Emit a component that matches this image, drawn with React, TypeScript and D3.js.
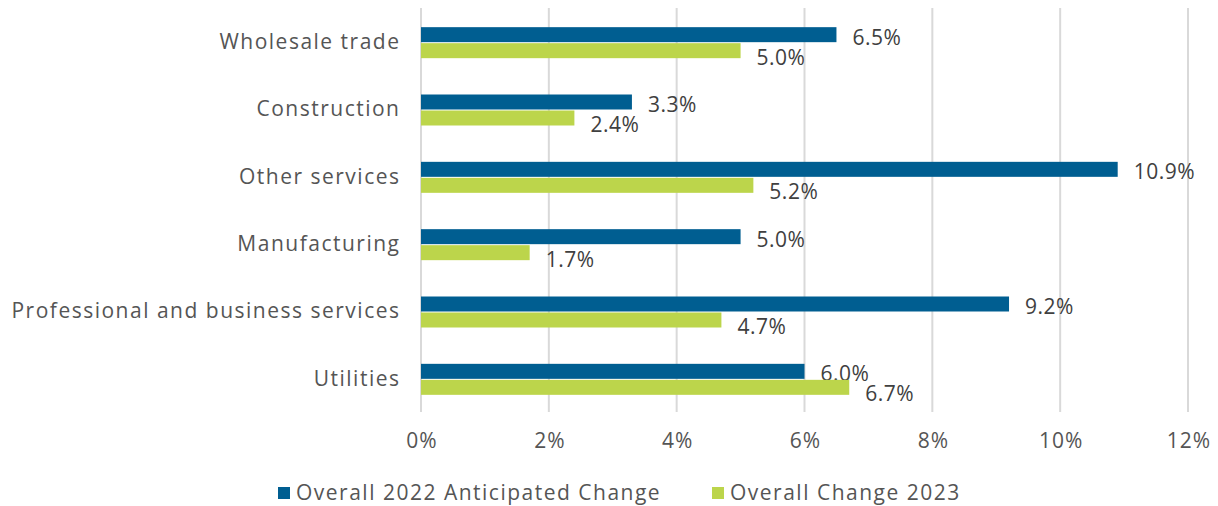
import React, { useEffect, useRef } from 'react'
import * as d3 from 'd3'

const categories = [
  'Wholesale trade',
  'Construction',
  'Other services',
  'Manufacturing',
  'Professional and business services',
  'Utilities',
]
const anticipated2022 = [6.5, 3.3, 10.9, 5.0, 9.2, 6.0]
const change2023 = [5.0, 2.4, 5.2, 1.7, 4.7, 6.7]
const xTicks = [0, 2, 4, 6, 8, 10, 12]
const seriesNames = ['Overall 2022 Anticipated Change', 'Overall Change 2023']
const colors = ['#005e91', '#bcd54b']

const App = () => {
  const ref = useRef<SVGSVGElement>(null)

  useEffect(() => {
    const width = 1218
    const height = 506
    const margin = { top: 8, right: 30, bottom: 94, left: 421 }
    const font = '"Open Sans", sans-serif'
    const textColor = '#555555'

    const svg = d3.select(ref.current)
    svg.selectAll('*').remove()

    const x = d3.scaleLinear().domain([0, 12]).range([margin.left, 1188])
    const y = d3
      .scaleBand()
      .domain(categories)
      .range([margin.top, height - margin.bottom])
    const inner = d3.scaleBand().domain(['a', 'b']).range([0, 32]).padding(0)
    const barOffset = (y.bandwidth() - 32) / 2 + 1.5

    // gridlines
    svg
      .append('g')
      .selectAll('line')
      .data(xTicks)
      .join('line')
      .attr('x1', d => x(d))
      .attr('x2', d => x(d))
      .attr('y1', margin.top)
      .attr('y2', height - margin.bottom)
      .attr('stroke', '#d9d9d9')
      .attr('stroke-width', 2)

    // tick labels
    svg
      .append('g')
      .selectAll('text')
      .data(xTicks)
      .join('text')
      .attr('x', d => x(d) + 1)
      .attr('y', 441)
      .attr('dy', '0.35em')
      .attr('text-anchor', 'middle')
      .attr('font-family', font)
      .attr('font-size', 21)
      .attr('letter-spacing', 1)
      .attr('fill', textColor)
      .text(d => `${d}%`)

    // category labels
    svg
      .append('g')
      .selectAll('text')
      .data(categories)
      .join('text')
      .attr('x', 400.5)
      .attr('y', d => (y(d) as number) + y.bandwidth() / 2)
      .attr('dy', '0.35em')
      .attr('text-anchor', 'end')
      .attr('font-family', font)
      .attr('font-size', 21)
      .attr('letter-spacing', 1.5)
      .attr('fill', textColor)
      .text(d => d)

    const series = [anticipated2022, change2023]
    series.forEach((vals, si) => {
      const key = si === 0 ? 'a' : 'b'
      const g = svg.append('g')
      g.selectAll('rect')
        .data(vals)
        .join('rect')
        .attr('x', x(0))
        .attr('y', (d, i) => (y(categories[i]) as number) + barOffset + (inner(key) as number))
        .attr('height', inner.bandwidth() - 1)
        .attr('width', d => x(d) - x(0))
        .attr('fill', colors[si])
      g.selectAll('text')
        .data(vals)
        .join('text')
        .attr('x', d => x(d) + 16)
        .attr(
          'y',
          (d, i) =>
            (y(categories[i]) as number) +
            barOffset +
            (inner(key) as number) +
            inner.bandwidth() / 2 +
            (si === 0 ? 2 : 6),
        )
        .attr('dy', '0.35em')
        .attr('font-family', font)
        .attr('font-size', 21)
        .attr('letter-spacing', 0.5)
        .attr('fill', '#404040')
        .text(d => `${d.toFixed(1)}%`)
    })

    // legend
    const legendX = [278, 712]
    const lg = svg.append('g')
    seriesNames.forEach((name, i) => {
      lg.append('rect')
        .attr('x', legendX[i])
        .attr('y', 487)
        .attr('width', 12)
        .attr('height', 12)
        .attr('fill', colors[i])
      lg.append('text')
        .attr('x', legendX[i] + 18)
        .attr('y', 493)
        .attr('dy', '0.35em')
        .attr('font-family', font)
        .attr('font-size', 21)
        .attr('letter-spacing', 1.5)
        .attr('fill', textColor)
        .text(name)
    })
  }, [])

  return <svg ref={ref} width={1218} height={506} style={{ position: 'absolute', left: 0, top: 0 }} />
}

export default App
